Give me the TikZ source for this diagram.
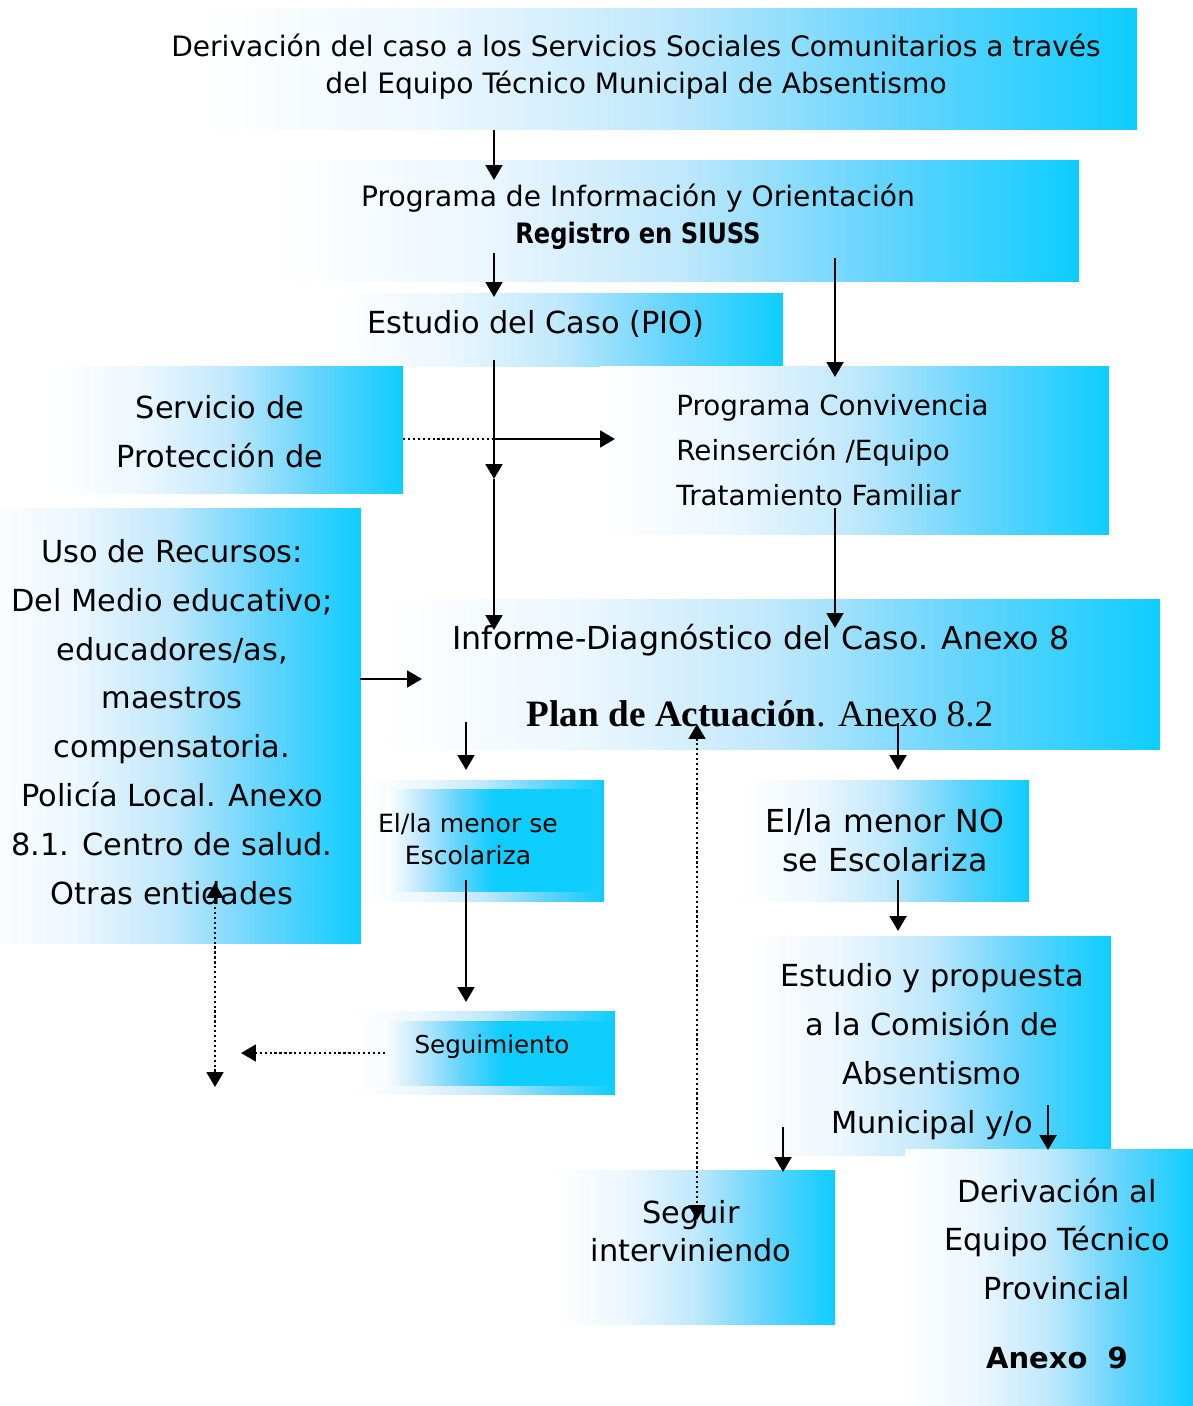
\documentclass[tikz,border=0pt]{standalone}
\usepackage{fontspec}
\usepackage{graphicx}
\setmainfont{DejaVu Sans}
\newfontfamily\planfont{Liberation Serif}
\usetikzlibrary{arrows.meta,fit}

\definecolor{cyanbox}{RGB}{14,205,255}
\definecolor{fadeB}{RGB}{236,247,254}
\definecolor{fadeC}{RGB}{192,232,252}
\definecolor{fadeD}{RGB}{100,212,253}
\pgfdeclarehorizontalshading{cyanfade}{100bp}{color(0bp)=(white); color(25bp)=(white);
  color(37.5bp)=(fadeB); color(50bp)=(fadeC); color(62.5bp)=(fadeD);
  color(75bp)=(cyanbox); color(100bp)=(cyanbox)}
\pgfdeclarehorizontalshading{cyanfast}{100bp}{color(0bp)=(white); color(25bp)=(white);
  color(33bp)=(fadeC); color(42bp)=(fadeD); color(51bp)=(cyanbox); color(100bp)=(cyanbox)}

\tikzset{
  box/.style={shade, shading=cyanfade, inner sep=0pt},
  innerbox/.style={shade, shading=cyanfast, inner sep=0pt},
  txt/.style={align=center, inner sep=0pt, font=\fontsize{17.3pt}{27.8pt}\selectfont},
  smalltxt/.style={txt, font=\fontsize{16pt}{21pt}\selectfont},
  tinytxt/.style={txt, font=\fontsize{14pt}{18pt}\selectfont},
  link/.style={-{Triangle[length=8.5pt,width=9.5pt]}, line width=1.6pt},
  hint/.style={line width=1.5pt, dash pattern=on 1.3pt off 1.5pt},
  hintarrow/.style={hint, -{Triangle[length=8.5pt,width=9.5pt]}},
  hintboth/.style={hint, {Triangle[length=8.5pt,width=9.5pt]}-{Triangle[length=8.5pt,width=9.5pt]}},
}

\begin{document}
\begin{tikzpicture}[x=0.02cm, y=-0.02cm]
\useasboundingbox (0,0) rectangle (1193,1406);

% boxes
\node[box, fit={(200,9) (1137,130)}] (derivbox) {};
\node[box, fit={(280,160) (1079,281)}] (progbox) {};
\node[box, fit={(335,293) (783,366)}] (estbox) {};
\node[box, fit={(55,366) (403,493)}] (protbox) {};
\node[box, fit={(600,366) (1109,534)}] (convbox) {};
\node[box, fit={(-20,508) (361,943)}] (usobox) {};
\node[box, fit={(385,599) (1160,749)}] (infbox) {};
\node[box, fit={(363,780) (604,901)}] (siescbox) {};
\node[innerbox, fit={(387,789) (593,891)}] (siescin) {};
\node[box, fit={(745,780) (1029,901)}] (noescbox) {};
\node[box, fit={(355,1011) (615,1094)}] (seguimbox) {};
\node[innerbox, fit={(383,1021) (613,1085)}] (seguimin) {};
\node[box, fit={(750,936) (1111,1155)}] (propbox) {};
\node[box, fit={(555,1170) (835,1324)}] (seguirbox) {};
\node[box, fit={(905,1149) (1193,1406)}] (provbox) {};

% texts
\node[smalltxt] (derivtxt) at (636,67) {Derivación del caso a los Servicios Sociales Comunitarios a través\\del Equipo Técnico Municipal de Absentismo};
\node[smalltxt] (progtxt) at (638,217) {Programa de Información y Orientación\\\scalebox{0.86}[1]{\textbf{Registro en SIUSS}}};
\node[txt] (esttxt) at (536,324) {Estudio del Caso (PIO)};
\node[txt] (prottxt) at (220,431.5) {Servicio de\\Protección de};
\node[txt, align=left, anchor=west, font=\fontsize{15.8pt}{25.5pt}\selectfont] (convtxt) at (676,450) {Programa Convivencia\\Reinserción /Equipo\\Tratamiento Familiar};
\node[txt] (usotxt) at (172,722) {Uso de Recursos:\\Del Medio educativo;\\educadores/as,\\maestros\\compensatoria.\\Policía Local. Anexo\\8.1. Centro de salud.\\Otras entidades};
\node[txt, font=\fontsize{18pt}{22pt}\selectfont] (inftxt) at (761,640) {Informe-Diagnóstico del Caso. Anexo 8};
\node[txt, font=\planfont\fontsize{21.2pt}{24pt}\selectfont] (plantxt) at (760,714) {\textbf{Plan de Actuación}. Anexo 8.2};
\node[tinytxt, font=\fontsize{14.3pt}{18pt}\selectfont] (siesctxt) at (468,839) {El/la menor se\\Escolariza};
\node[txt, font=\fontsize{18pt}{22pt}\selectfont] (noesctxt) at (885,840.5) {El/la menor NO\\se Escolariza};
\node[tinytxt] (seguimtxt) at (492,1047) {Seguimiento};
\node[txt] (proptxt) at (932,1051.5) {Estudio y propuesta\\a la Comisión de\\Absentismo\\Municipal y/o};
\node[txt, font=\fontsize{17.3pt}{21.5pt}\selectfont] (seguirtxt) at (691,1231) {Seguir\\interviniendo};
\node[txt] (provtxt) at (1057,1239) {Derivación al\\Equipo Técnico\\Provincial};
\node[txt, font=\bfseries\fontsize{16.5pt}{20pt}\selectfont] (anexotxt) at (1057,1358) {Anexo\ \ 9};

% connector ends
\coordinate (c1) at (494,130);  \coordinate (c1e) at (494,180);
\coordinate (c2) at (494,253);  \coordinate (c2e) at (494,297);
\coordinate (c3) at (835,258);  \coordinate (c3e) at (835,377);
\coordinate (c4) at (494,360);  \coordinate (c4m) at (494,479);  \coordinate (c4e) at (494,630);
\coordinate (c5) at (403,439);  \coordinate (c5m) at (494,439);  \coordinate (c5e) at (615,439);
\coordinate (c6) at (835,508);  \coordinate (c6e) at (835,628);
\coordinate (c7) at (360,679);  \coordinate (c7e) at (422,679);
\coordinate (c8) at (466,722);  \coordinate (c8e) at (466,770);
\coordinate (c9) at (898,723);  \coordinate (c9e) at (898,770);
\coordinate (c10) at (466,880); \coordinate (c10e) at (466,1002);
\coordinate (c11) at (898,880); \coordinate (c11e) at (898,931);
\coordinate (c12) at (385,1053); \coordinate (c12e) at (241,1053);
\coordinate (c13) at (215,883); \coordinate (c13e) at (215,1087);
\coordinate (c14) at (697,724); \coordinate (c14e) at (697,1220);
\coordinate (c15) at (783,1127); \coordinate (c15e) at (783,1172);
\coordinate (c16) at (1048,1105); \coordinate (c16e) at (1048,1150);

% connectors
\draw[link] (c1) -- (c1e);
\draw[link] (c2) -- (c2e);
\draw[link] (c3) -- (c3e);
\draw[link] (c4) -- (c4m);
\draw[link] (c4m) -- (c4e);
\draw[hint] (c5) -- (c5m);
\draw[link] (c5m) -- (c5e);
\draw[link] (c6) -- (c6e);
\draw[link] (c7) -- (c7e);
\draw[link] (c8) -- (c8e);
\draw[link] (c9) -- (c9e);
\draw[link] (c10) -- (c10e);
\draw[link] (c11) -- (c11e);
\draw[hintarrow] (c12) -- (c12e);
\draw[hintboth] (c13) -- (c13e);
\draw[hintboth] (c14) -- (c14e);
\draw[link] (c15) -- (c15e);
\draw[link] (c16) -- (c16e);
\end{tikzpicture}
\end{document}
